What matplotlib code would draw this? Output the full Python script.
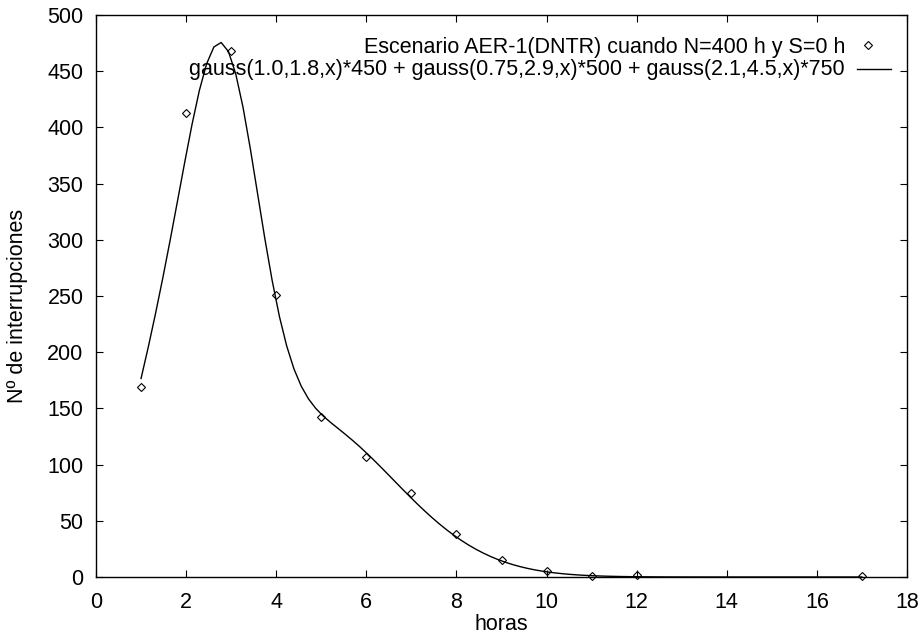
import numpy as np
import matplotlib
matplotlib.use("Agg")
import matplotlib.pyplot as plt
from matplotlib.lines import Line2D

plt.rcParams['font.family'] = ['Liberation Sans', 'DejaVu Sans']

# Observed interruptions per hour
horas = [1, 2, 3, 4, 5, 6, 7, 8, 9, 10, 11, 12, 17]
interrupciones = [169, 413, 468, 251, 142, 107, 75, 38, 15, 5, 1, 2, 1]

# Fitted model: sum of three weighted gaussians (sigma, mu, weight)
componentes = [(1.0, 1.8, 450), (0.75, 2.9, 500), (2.1, 4.5, 750)]
label_datos = "Escenario AER-1(DNTR) cuando N=400 h y S=0 h"
label_ajuste = "gauss(1.0,1.8,x)*450 + gauss(0.75,2.9,x)*500 + gauss(2.1,4.5,x)*750"


def gauss(s, m, x):
    return np.exp(-(x - m) ** 2 / (2 * s ** 2)) / (s * np.sqrt(2 * np.pi))


xs = np.linspace(1, 17, 100)
ys = sum(gauss(s, m, xs) * w for s, m, w in componentes)

W, H = 921, 639
L, R, T, B = 96, 907, 15, 577
FS = 15.5

fig = plt.figure(figsize=(W / 100, H / 100), dpi=100)
ax = fig.add_axes([L / W, 1 - B / H, (R - L) / W, (B - T) / H])

ax.plot(xs, ys, color='black', lw=1.0)
ax.plot(horas, interrupciones, linestyle='none', marker='D', markersize=4.5,
        mfc='none', mec='black', mew=0.8, clip_on=False)

ax.set_xlim(0, 18)
ax.set_ylim(0, 500)
ax.set_xticks(np.arange(0, 19, 2))
ax.set_yticks(np.arange(0, 501, 50))
ax.tick_params(direction='in', top=True, right=True, labelsize=FS, length=5, width=0.8)
ax.tick_params(axis='x', pad=11)
ax.tick_params(axis='y', pad=9)
for sp in ax.spines.values():
    sp.set_linewidth(1.0)

fig.text((L + R) / 2 / W, 1 - 625 / H, "horas", ha='center', va='center', fontsize=FS)
fig.text(17 / W, 1 - 306 / H, "Nº de interrupciones", ha='center', va='center',
         rotation=90, fontsize=FS)

# Key in the upper right, text right-aligned with sample to the right
ax_x = lambda px: (px - L) / (R - L)
ax_y = lambda py: (B - py) / (B - T)
ax.text(ax_x(845), ax_y(47), label_datos, ha='right', va='center', fontsize=FS,
        transform=ax.transAxes)
ax.text(ax_x(845), ax_y(70), label_ajuste, ha='right', va='center', fontsize=FS,
        transform=ax.transAxes)
ax.add_line(Line2D([ax_x(868)], [ax_y(45)], marker='D', markersize=4.5, mfc='none',
                   mec='black', mew=0.8, transform=ax.transAxes))
ax.add_line(Line2D([ax_x(857), ax_x(891)], [ax_y(69), ax_y(69)], color='black',
                   lw=1.0, transform=ax.transAxes))

fig.savefig("out.png", dpi=100)
